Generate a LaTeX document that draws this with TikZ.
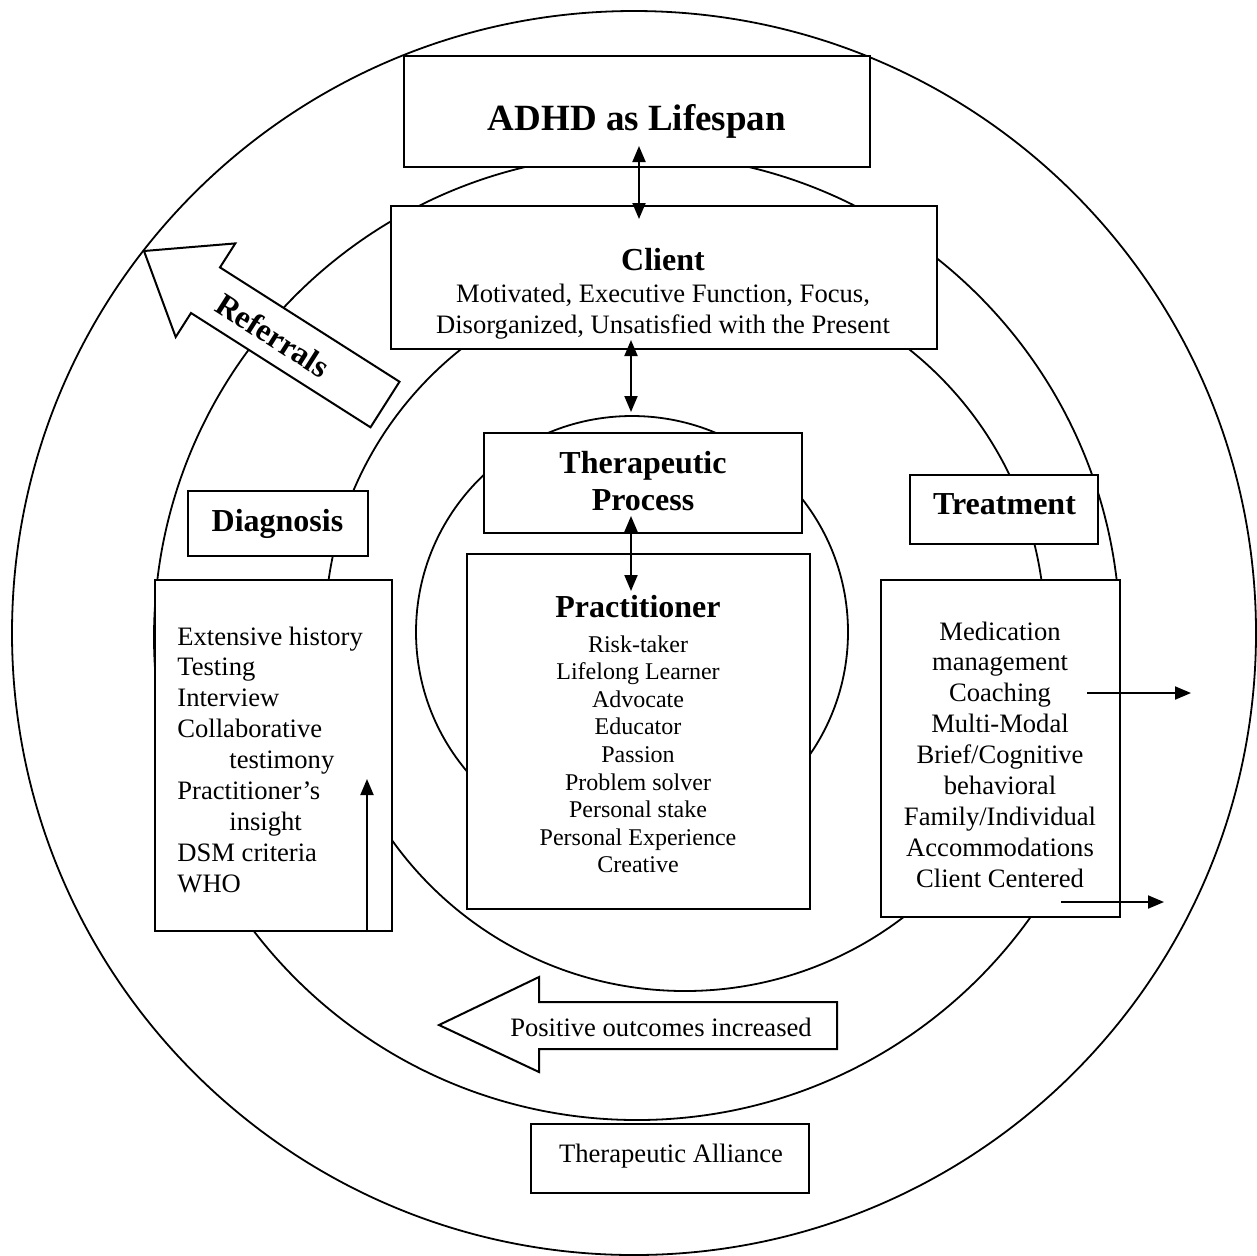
\documentclass[tikz,border=0pt]{standalone}
\usepackage{fontspec}
\setmainfont{Liberation Serif}
\usetikzlibrary{arrows.meta}

\tikzset{
  ring/.style={line width=0.9pt},
  box/.style={draw, fill=white, line width=1pt, inner sep=0pt},
  blockarrow/.style={draw, fill=white, line width=1pt, line join=miter},
  head/.style={font=\bfseries\fontsize{16}{19}\selectfont, inner sep=0pt},
  item/.style={font=\fontsize{13.3}{15.5}\selectfont, inner sep=0pt},
  smallitem/.style={font=\fontsize{12}{13.8}\selectfont, inner sep=0pt},
  twoway/.style={line width=1pt, >={Triangle[length=8pt,width=6.5pt]}, <->},
  oneway/.style={line width=1pt, -{Triangle[length=8pt,width=6.5pt]}}
}

\begin{document}
\begin{tikzpicture}[x=0.5pt, y=-0.5pt]
        \useasboundingbox (0,0) rectangle (1257,1255);

        \draw[ring] (634,633) circle[radius=311pt]; %outer
        \draw[ring] (637,637) circle[radius=241.5pt]; %middle
        \draw[ring] (685,631) circle[radius=180pt]; %shifted
        \draw[ring] (632,632) circle[radius=108pt]; %inner

        \node[box, minimum width=233pt, minimum height=55.5pt] (adhdbox) at (637,111.5) {}; %adhd
        \node[box, minimum width=273pt, minimum height=71.5pt] (clientbox) at (664,277.5) {}; %client
        \node[box, minimum width=159pt, minimum height=50pt] (procbox) at (643,483) {}; %process
        \node[box, minimum width=171.5pt, minimum height=177.5pt] (practbox) at (638.5,731.5) {}; %practitioner
        \node[box, minimum width=90pt, minimum height=32.5pt] (diagbox) at (278,523.5) {}; %diagnosis
        \node[box, minimum width=118.5pt, minimum height=175.5pt] (diaglist) at (273.5,755.5) {};
        \node[box, minimum width=94pt, minimum height=34.5pt] (treatbox) at (1004,509.5) {}; %treatment
        \node[box, minimum width=119.5pt, minimum height=168.5pt] (treatlist) at (1000.5,748.5) {};
        \node[box, minimum width=139pt, minimum height=34.5pt] (alliancebox) at (670,1158.5) {}; %alliance

        \draw[blockarrow] (144,251) -- (235.3,243.4) -- (220,267.4) -- (399.5,381.7)
            -- (370.5,427.3) -- (191,313) -- (175.7,337) -- cycle; %referrals
        \draw[blockarrow] (439,1025) -- (539,977) -- (539,1002) -- (837,1002)
            -- (837,1049) -- (539,1049) -- (539,1072) -- cycle; %outcomes

        \node[font=\bfseries\fontsize{18.5}{22}\selectfont, inner sep=0pt, anchor=base] (adhd) at (637,130) {ADHD as Lifespan};
        \node[head, anchor=base] (client) at (663,270) {Client};
        \node[item, anchor=base] (clientA) at (663,302) {Motivated, Executive Function, Focus,};
        \node[item, anchor=base] (clientB) at (663,333) {Disorganized, Unsatisfied with the Present};
        \node[head, anchor=base] (proc) at (643,473) {Therapeutic};
        \node[head, anchor=base] (procB) at (643,510) {Process};
        \node[head, anchor=base] (pract) at (638,617) {Practitioner};
        \foreach \t [count=\i from 0] in {Risk-taker, Lifelong Learner, Advocate, Educator, Passion, Problem solver, Personal stake, Personal Experience, Creative}
            \node[smallitem, anchor=base] (pract\i) at (638, 652+27.6*\i) {\t};

        \node[head, anchor=base] (diag) at (277.5,531) {Diagnosis};
        \foreach \x/\t [count=\i from 0] in {177/Extensive history, 177/Testing, 177/Interview, 177/Collaborative, 229/testimony, 177/Practitioner's, 229/insight, 177/DSM criteria, 177/WHO}
            \node[item, anchor=base west] (diag\i) at (\x, 645+30.9*\i) {\t};

        \node[head, anchor=base] (treat) at (1004.5,514) {Treatment};
        \foreach \t [count=\i from 0] in {Medication, management, Coaching, Multi-Modal, {Brief/Cognitive}, behavioral, {Family/Individual}, Accommodations, Client Centered}
            \node[item, anchor=base] (treat\i) at (1000, 640+30.9*\i) {\t};

        \node[head, rotate=-32.5] (referrals) at (273,335) {Referrals};
        \node[item, anchor=base] (outcomes) at (661,1036) {Positive outcomes increased};
        \node[item, anchor=base] (alliance) at (671,1162) {Therapeutic Alliance};

        \coordinate (colA) at (639,0);
        \coordinate (colB) at (631,0);
        \coordinate (diagtip) at (367,779);
        \coordinate (treattipA) at (1191,693);
        \coordinate (treattipB) at (1164,902);

        \draw[twoway, shorten <=-11pt, shorten >=-7pt] (adhdbox.south -| colA) -- (clientbox.north -| colA);
        \draw[twoway, shorten <=-5pt, shorten >=10pt] (clientbox.south -| colB) -- (procbox.north -| colB);
        \draw[twoway, shorten <=-9pt, shorten >=-19pt] (procbox.south -| colB) -- (practbox.north -| colB);
        \draw[oneway] (diaglist.south -| diagtip) -- (diagtip);
        \draw[oneway, shorten <=-17pt] (treatlist.east |- treattipA) -- (treattipA);
        \draw[oneway, shorten <=-30pt] (treatlist.east |- treattipB) -- (treattipB);
\end{tikzpicture}
\end{document}
